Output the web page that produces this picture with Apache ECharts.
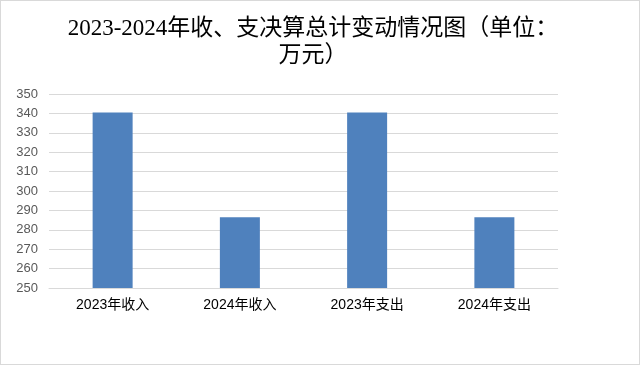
<!DOCTYPE html>
<html><head><meta charset="utf-8">
<script src="https://cdn.jsdelivr.net/npm/echarts@6/dist/echarts.min.js"></script>
<style>
html,body{margin:0;padding:0;background:#fff;}
#c{position:absolute;left:0;top:0;width:638px;height:363px;border:1px solid #d9d9d9;}
</style></head>
<body><div id="c"></div>
<script>
const categories = ['2023年收入','2024年收入','2023年支出','2024年支出'];
const values = [340.5, 286.5, 340.5, 286.5];
const titleLines = ['2023-2024年收、支决算总计变动情况图（单位：','万元）'];
const yMin = 250, yMax = 350, yStep = 10;

const titleFont = 'normal 23px "Liberation Serif","Noto Sans CJK SC"';
const chart = echarts.init(document.getElementById('c'));
chart.setOption({
  animation:false,
  graphic:titleLines.map((t,i)=>({type:'text',x:312,y:28+i*27,
    style:{text:t,textAlign:'center',textVerticalAlign:'middle',font:titleFont,fill:'#000'}})),
  grid:{left:48,right:81,top:93,bottom:76,containLabel:false},
  xAxis:{type:'category',data:categories,
    axisLine:{lineStyle:{color:'#d9d9d9'}},axisTick:{show:false},
    axisLabel:{color:'#000',fontSize:14,margin:10,fontFamily:'"Liberation Sans","Noto Sans CJK SC"'}},
  yAxis:{type:'value',min:yMin,max:yMax,interval:yStep,
    axisLine:{show:false},axisTick:{show:false},
    splitLine:{lineStyle:{color:'#d9d9d9'}},
    axisLabel:{color:'#595959',fontSize:13,margin:11,fontFamily:'"Liberation Sans"'}},
  series:[{type:'bar',data:values,barWidth:40,itemStyle:{color:'#4f81bd'}}]
});
</script></body></html>
